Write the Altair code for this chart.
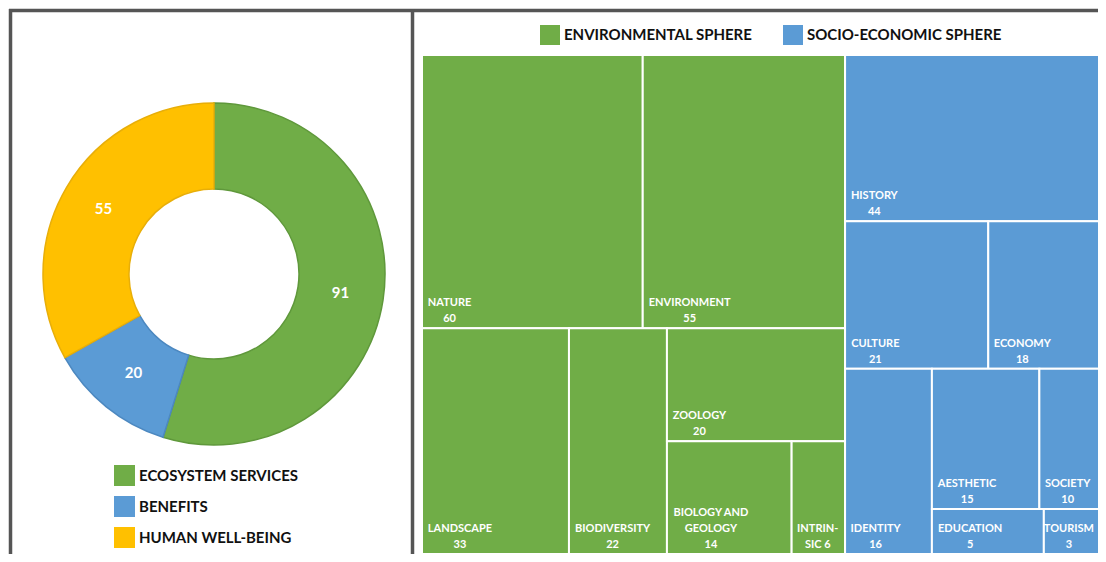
import altair as alt
import pandas as pd

# ---------------- data ----------------
donut_cats = ["ECOSYSTEM SERVICES", "BENEFITS", "HUMAN WELL-BEING"]
donut_vals = [91, 20, 55]
donut_colors = ["#70AD47", "#5B9BD5", "#FFC000"]
donut_edges = ["#5f983b", "#4c88c0", "#e8ae08"]

spheres = ["ENVIRONMENTAL SPHERE", "SOCIO-ECONOMIC SPHERE"]
sphere_colors = ["#70AD47", "#5B9BD5"]

env_names = ["NATURE", "ENVIRONMENT", "LANDSCAPE", "BIODIVERSITY", "ZOOLOGY",
             "BIOLOGY AND\nGEOLOGY", "INTRIN-\nSIC"]
env_values = [60, 55, 33, 22, 20, 14, 6]
env_sep = ["\n", "\n", "\n", "\n", "\n", "\n", " "]

soc_names = ["HISTORY", "CULTURE", "ECONOMY", "IDENTITY", "AESTHETIC",
             "SOCIETY", "EDUCATION", "TOURISM"]
soc_values = [44, 21, 18, 16, 15, 10, 5, 3]
soc_sep = ["\n"] * 8

# treemap nesting (direction of each split, children)
layout = ("x", [
    ("y", [("x", ["NATURE", "ENVIRONMENT"]),
           ("x", ["LANDSCAPE", "BIODIVERSITY",
                  ("y", ["ZOOLOGY", ("x", ["BIOLOGY AND\nGEOLOGY", "INTRIN-\nSIC"])])])]),
    ("y", ["HISTORY", ("x", ["CULTURE", "ECONOMY"]),
           ("x", ["IDENTITY", ("y", [("x", ["AESTHETIC", "SOCIETY"]),
                                     ("x", ["EDUCATION", "TOURISM"])])])]),
])

values = dict(zip(env_names + soc_names, env_values + soc_values))
sphere_of = {n: spheres[0] for n in env_names}
sphere_of.update({n: spheres[1] for n in soc_names})
sep_of = dict(zip(env_names + soc_names, env_sep + soc_sep))


def weight(node):
    if isinstance(node, str):
        return values[node]
    return sum(weight(c) for c in node[1])


cells = []


def place(node, x0, x1, y0, y1):
    if isinstance(node, str):
        cells.append((node, x0, x1, y0, y1))
        return
    d, children = node
    tot = weight(node)
    cur = x0 if d == "x" else y0
    for c in children:
        f = weight(c) / tot
        if d == "x":
            nxt = cur + (x1 - x0) * f
            place(c, cur, nxt, y0, y1)
        else:
            nxt = cur + (y1 - y0) * f
            place(c, x0, x1, cur, nxt)
        cur = nxt


place(layout, 0.0, 1.0, 0.0, 1.0)

W, H = 1090, 546
# pixel ranges of the treemap inside the chart
XR = [414, 1103]
YR = [47, 546]
px_x = XR[1] - XR[0]
px_y = YR[1] - YR[0]
vis_right = (W - 3 - XR[0]) / px_x  # last visible x (data units)

CW = {"A": .68, "B": .66, "C": .66, "D": .74, "E": .58, "F": .56, "G": .72, "H": .76,
      "I": .30, "J": .42, "K": .68, "L": .52, "M": .90, "N": .76, "O": .79, "P": .62,
      "Q": .79, "R": .64, "S": .56, "T": .60, "U": .73, "V": .68, "W": 1.0, "X": .66,
      "Y": .63, "Z": .60, " ": .24, "-": .38}
FS = 11
LH = 16


def tw(s):
    return sum(CW.get(ch, .58) for ch in s) * FS * 1.05


rows = []
for name, x0, x1, y0, y1 in cells:
    label = name + sep_of[name] + str(values[name])
    lines = label.split("\n")
    wmax = max(tw(line) for line in lines)
    lx = x0 + (4.5 + wmax / 2) / px_x
    lx = min(lx, vis_right - (wmax / 2) / px_x)
    rows.append(dict(name=name, sphere=sphere_of[name], value=values[name],
                     x0=x0, x1=x1, y0=y0, y1=y1, label=label, lx=lx,
                     ly=y1 - ((len(lines) - 1) * LH + 4) / px_y))
tm = pd.DataFrame(rows)

donut = pd.DataFrame(dict(cat=donut_cats, value=donut_vals,
                          idx=list(range(len(donut_cats)))))

FONT = "Lato"
CX, CY = 206, 266

# ---------------- donut ----------------
arc = alt.Chart(donut).mark_arc(radius=171, innerRadius=85, strokeWidth=1.5).encode(
    theta=alt.Theta("value:Q", stack=True),
    order=alt.Order("idx:Q"),
    x=alt.value(CX), y=alt.value(CY),
    color=alt.Color("cat:N", scale=alt.Scale(domain=donut_cats, range=donut_colors),
                    legend=alt.Legend(orient="none", legendX=106, legendY=457, title=None,
                                      direction="vertical", symbolType="square",
                                      symbolSize=440, symbolStrokeWidth=0,
                                      labelFont=FONT, labelFontSize=15,
                                      labelFontWeight="bold", labelColor="#111111",
                                      labelOffset=4, rowPadding=10, labelLimit=0)),
    stroke=alt.Stroke("cat:N", scale=alt.Scale(domain=donut_cats, range=donut_edges),
                      legend=None),
)
arc_text = alt.Chart(donut).mark_text(radius=128, font=FONT, fontSize=15,
                                      fontWeight="bold", color="white").encode(
    theta=alt.Theta("value:Q", stack=True),
    order=alt.Order("idx:Q"),
    x=alt.value(CX), y=alt.value(CY),
    text=alt.Text("value:Q"),
)

# ---------------- treemap ----------------
xs = alt.Scale(domain=[0, 1], range=XR, nice=False, zero=False)
ys = alt.Scale(domain=[0, 1], range=YR, nice=False, zero=False)

rect = alt.Chart(tm).mark_rect(stroke="white", strokeWidth=2, clip=True).encode(
    x=alt.X("x0:Q", scale=xs, axis=None), x2="x1:Q",
    y=alt.Y("y0:Q", scale=ys, axis=None), y2="y1:Q",
    color=alt.Color("sphere:N", scale=alt.Scale(domain=spheres, range=sphere_colors),
                    legend=alt.Legend(orient="none", legendX=532, legendY=17, title=None,
                                      direction="horizontal", symbolType="square",
                                      symbolSize=400, symbolStrokeWidth=0,
                                      labelFont=FONT, labelFontSize=15,
                                      labelFontWeight="bold", labelColor="#111111",
                                      labelOffset=4, columnPadding=30, labelLimit=0)),
)
rect_text = alt.Chart(tm).mark_text(align="center", baseline="bottom",
                                    lineBreak="\n", lineHeight=LH, font=FONT,
                                    fontSize=FS, fontWeight="bold", color="white",
                                    clip=True).encode(
    x=alt.X("lx:Q", scale=xs, axis=None),
    y=alt.Y("ly:Q", scale=ys, axis=None),
    text="label:N",
)

# ---------------- frames ----------------
one = alt.Data(values=[{"a": 1}])
FR = "#555555"
top_rule = alt.Chart(one).mark_rule(color=FR, strokeWidth=3.5).encode(
    x=alt.value(1), x2=alt.value(W), y=alt.value(2.5), y2=alt.value(2.5))
left_rule = alt.Chart(one).mark_rule(color=FR, strokeWidth=3.5).encode(
    x=alt.value(2.5), x2=alt.value(2.5), y=alt.value(1), y2=alt.value(H))
mid_rule = alt.Chart(one).mark_rule(color=FR, strokeWidth=3.5).encode(
    x=alt.value(404.5), x2=alt.value(404.5), y=alt.value(1), y2=alt.value(H))

chart = alt.layer(
    rect, rect_text, arc, arc_text, top_rule, left_rule, mid_rule
).resolve_scale(color="independent", stroke="independent").properties(
    width=W, height=H, padding=0,
    autosize=alt.AutoSizeParams(type="none"),
).configure_view(strokeWidth=0)

chart.save("out.html", embed_options={"renderer": "svg", "actions": False})
